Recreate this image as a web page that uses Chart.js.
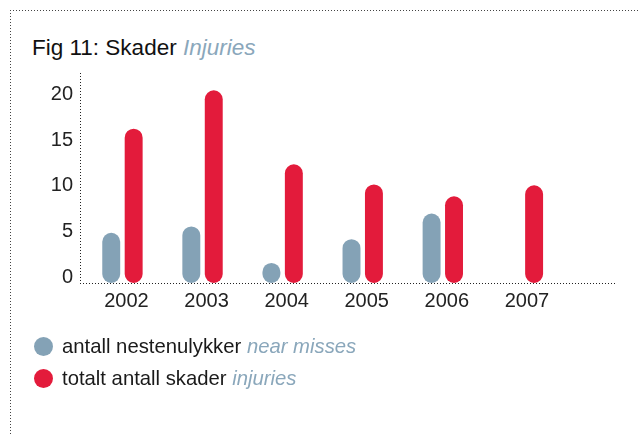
<!DOCTYPE html>
<html>
<head>
<meta charset="utf-8">
<script src="https://cdn.jsdelivr.net/npm/chart.js@4/dist/chart.umd.min.js"></script>
<style>
  html, body { margin: 0; padding: 0; background: #fff; }
  body { width: 639px; height: 436px; position: relative; overflow: hidden;
         font-family: "Liberation Sans", Helvetica, Arial, sans-serif; }
  #frameTop { position: absolute; left: 10px; top: 10px; width: 629px; height: 1px;
    background: repeating-linear-gradient(to right, #444 0 1px, transparent 1px 3px); }
  #frameLeft { position: absolute; left: 10px; top: 10px; width: 1px; height: 426px;
    background: repeating-linear-gradient(to bottom, #444 0 1px, transparent 1px 3px); }
  #title { position: absolute; left: 32px; top: 36px; font-size: 22.5px; line-height: 24px;
    color: #111; white-space: nowrap; }
  .en { font-style: italic; color: #8aa7bb; }
  #chartWrap { position: absolute; left: 0; top: 0; width: 639px; height: 436px; }
  #legend { position: absolute; left: 34px; top: 334px; }
  .item { position: relative; height: 32px; font-size: 20.3px; line-height: 24px; color: #1a1a1a;
    white-space: nowrap; }
  .dot { position: absolute; left: 0; top: 3px; width: 19px; height: 19px; border-radius: 50%; }
  .txt { position: absolute; left: 28px; top: 0; }
</style>
</head>
<body>
<div id="frameTop"></div>
<div id="frameLeft"></div>
<div id="title">Fig 11: Skader <span class="en">Injuries</span></div>
<div id="chartWrap"><canvas id="c" width="639" height="436"></canvas></div>
<div id="legend"></div>
<script>
const years = [2002, 2003, 2004, 2005, 2006, 2007];
const yearLabels = ['2002', '2003', '2004', '2005', '2006', '2007'];
const nearMisses = [5.5, 6.2, 2.2, 4.8, 7.6, null];
const injuries = [16.9, 21.1, 13.0, 10.8, 9.5, 10.7];
const yTicks = [0, 5, 10, 15, 20];
const seriesNo = ['antall nestenulykker', 'totalt antall skader'];
const seriesEn = ['near misses', 'injuries'];
const seriesColors = ['#84a2b6', '#e31b3b'];

const toPoints = arr => years.map((x, i) => ({ x: x, y: arr[i] }));

const htmlLegend = {
  id: 'htmlLegend',
  afterUpdate(chart) {
    const box = document.getElementById('legend');
    box.innerHTML = '';
    chart.data.datasets.forEach((ds, i) => {
      const item = document.createElement('div');
      item.className = 'item';
      const dot = document.createElement('span');
      dot.className = 'dot';
      dot.style.background = ds.backgroundColor;
      const txt = document.createElement('span');
      txt.className = 'txt';
      txt.appendChild(document.createTextNode(ds.label + ' '));
      const en = document.createElement('span');
      en.className = 'en';
      en.textContent = seriesEn[i];
      txt.appendChild(en);
      item.appendChild(dot);
      item.appendChild(txt);
      box.appendChild(item);
    });
  }
};

// make the axis border lines dotted
const dottedAxes = {
  id: 'dottedAxes',
  beforeDraw(chart) { chart.ctx.setLineDash([1, 2]); },
  beforeDatasetsDraw(chart) { chart.ctx.setLineDash([]); }
};

Chart.defaults.font.family = '"Liberation Sans", Helvetica, Arial, sans-serif';

new Chart(document.getElementById('c'), {
  type: 'bar',
  data: {
    datasets: [
      { label: seriesNo[0], data: toPoints(nearMisses), backgroundColor: seriesColors[0] },
      { label: seriesNo[1], data: toPoints(injuries), backgroundColor: seriesColors[1] }
    ]
  },
  options: {
    responsive: false,
    animation: false,
    events: [],
    devicePixelRatio: 1,
    layout: { padding: { left: 0, right: 24, top: 73, bottom: 123 } },
    datasets: {
      bar: {
        borderRadius: 9,
        borderSkipped: false,
        categoryPercentage: 0.56,
        barPercentage: 0.8
      }
    },
    plugins: { legend: { display: false }, tooltip: { enabled: false }, title: { display: false } },
    scales: {
      x: {
        type: 'linear',
        min: 2001.47,
        max: 2008.15,
        offset: false,
        grid: { display: false, drawTicks: false },
        border: { display: true, color: '#222', width: 1, dash: [1, 2] },
        afterBuildTicks: s => { s.ticks = years.map(v => ({ value: v })); },
        afterFit: s => { s.height = 30; },
        ticks: {
          autoSkip: false,
          maxRotation: 0,
          padding: 6,
          labelOffset: 4,
          color: '#222',
          font: { size: 20 },
          callback: (v, i) => yearLabels[i]
        }
      },
      y: {
        min: 0,
        max: 23,
        grid: { display: false, drawTicks: false },
        border: { display: true, color: '#222', width: 1, dash: [1, 2] },
        afterBuildTicks: s => { s.ticks = yTicks.map(v => ({ value: v })); },
        afterFit: s => { s.width = 80; },
        ticks: {
          padding: 7,
          labelOffset: -6,
          color: '#222',
          font: { size: 20 },
          callback: v => String(v)
        }
      }
    }
  },
  plugins: [htmlLegend, dottedAxes]
});
</script>
</body>
</html>
